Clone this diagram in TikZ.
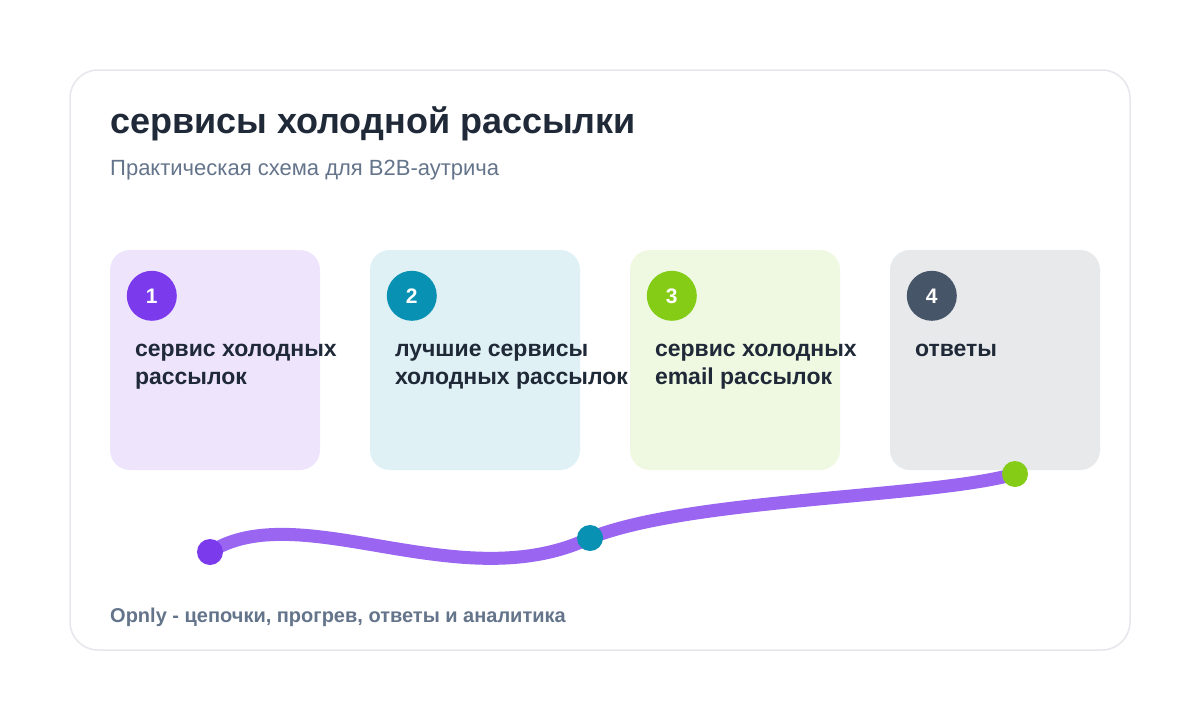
\documentclass[tikz,border=0pt]{standalone}
\usepackage{fontspec}
\setmainfont{Liberation Sans}
\usetikzlibrary{positioning}

\definecolor{ink}{HTML}{1F2937}
\definecolor{muted}{HTML}{64748B}
\definecolor{frameline}{HTML}{E5E7EB}
\definecolor{stepviolet}{HTML}{7C3AED}
\definecolor{stepcyan}{HTML}{0891B2}
\definecolor{steplime}{HTML}{84CC16}
\definecolor{stepslate}{HTML}{475569}

\pgfdeclarelayer{front}
\pgfsetlayers{main,front}

\tikzset{
  card/.style={rounded corners=20pt, minimum width=210pt, minimum height=220pt, inner sep=0pt},
  badge/.style={circle, minimum size=50pt, inner sep=0pt, text=white, font=\fontsize{21}{24}\selectfont\bfseries},
  cardtext/.style={anchor=north west, inner sep=0pt, align=left, text=ink, font=\fontsize{23}{28}\selectfont\bfseries},
  dot/.style={circle, minimum size=26pt, inner sep=0pt},
  trail/.style={line width=13pt, stepviolet!78, line cap=round}
}

\begin{document}
\begin{tikzpicture}[x=1pt, y=-1pt]

% Canvas
\useasboundingbox[fill=white] (0,0) rectangle (1200,720);

% Panel
\draw[frameline, line width=1.5pt, fill=white, rounded corners=28pt] (70,70) rectangle (1130,650);

% Heading
\node[anchor=base west, inner sep=0pt, text=ink, font=\fontsize{36}{40}\selectfont\bfseries] (title) at (110,133) {сервисы холодной рассылки};
\node[anchor=base west, inner sep=0pt, text=muted, font=\fontsize{22}{26}\selectfont] (subtitle) at (110,175) {Практическая схема для B2B-аутрича};

% Step cards
\foreach \i/\x/\col/\txt in {1/215/stepviolet/{сервис холодных\\рассылок},
                             2/475/stepcyan/{лучшие сервисы\\холодных рассылок},
                             3/735/steplime/{сервис холодных\\email рассылок},
                             4/995/stepslate/{ответы}}
{
\node[card, fill=\col!13] (card\i) at (\x,360) {};
\node[badge, fill=\col] (num\i) at ([shift={(42,46)}]card\i.north west) {\i};
\node[cardtext] (lbl\i) at ([shift={(25,94)}]card\i.north west) {\txt};
}

% Path dots
\begin{pgfonlayer}{front}
\node[dot, fill=stepviolet] (dot1) at (210,552) {};
\node[dot, fill=stepcyan] (dot2) at (590,538) {};
\node[dot, fill=steplime] (dot3) at (1015,474) {};
\end{pgfonlayer}

% Path
\draw[trail] (dot1.center) .. controls (300,495) and (460,600) .. (dot2.center)
  .. controls (690,498) and (930,498) .. (dot3.center);

% Footer
\node[anchor=base west, inner sep=0pt, text=muted, font=\fontsize{20}{24}\selectfont\bfseries] (footer) at (110,622) {Opnly - цепочки, прогрев, ответы и аналитика};

\end{tikzpicture}
\end{document}
